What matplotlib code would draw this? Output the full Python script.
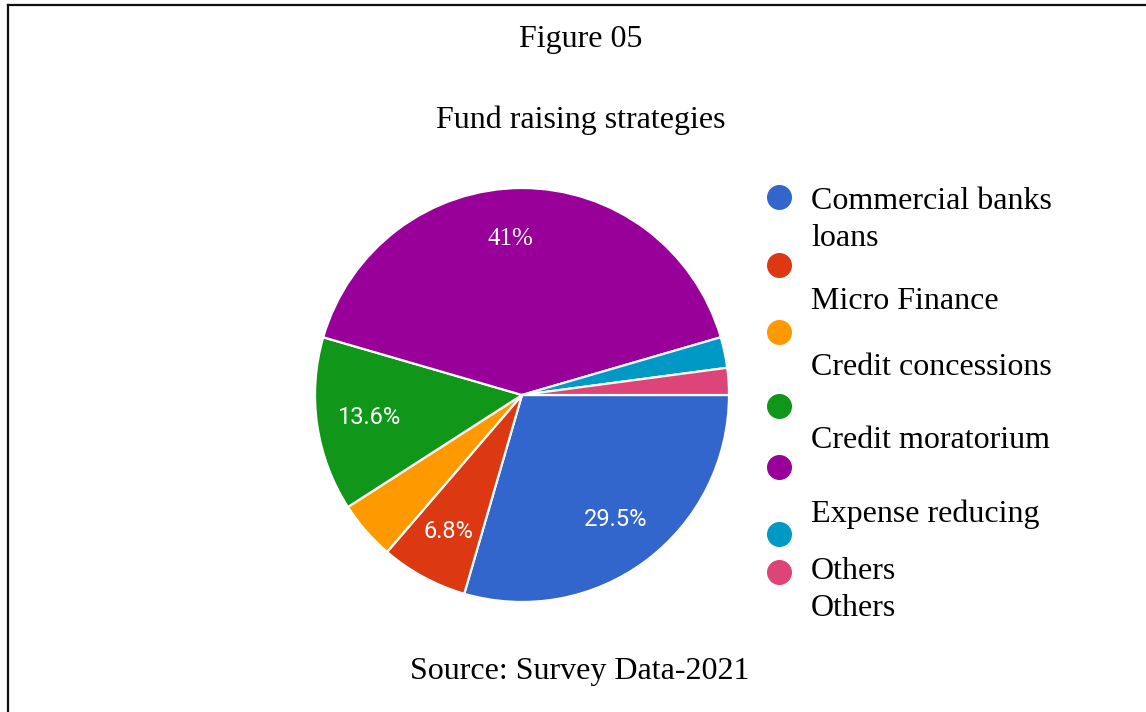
import matplotlib
matplotlib.use("Agg")
import matplotlib.pyplot as plt
from matplotlib.lines import Line2D
from matplotlib.font_manager import FontProperties

# Survey shares (%) for each fund raising strategy
categories = [
    "Commercial banks loans",
    "Micro Finance",
    "Credit concessions",
    "Credit moratorium",
    "Expense reducing",
    "Others",
    "Others",
]
shares = [29.5, 6.8, 4.6, 13.6, 41.0, 2.4, 2.1]
colors = ["#3366CC", "#DC3912", "#FF9900", "#109618", "#990099", "#0099C6", "#DD4477"]

# Legend text lines (wrapped as displayed)
legend_lines = [
    "Commercial banks", "loans", "Micro Finance", "Credit concessions",
    "Credit moratorium", "Expense reducing", "Others", "Others",
]

W, H = 1146, 712
fig = plt.figure(figsize=(W / 100, H / 100), dpi=100)
fig.patch.set_facecolor("white")

serif = ["Liberation Serif", "DejaVu Serif"]


def fx(px):
    return px / W


def fy(py):
    return 1 - py / H


# Frame lines (top and left)
fig.add_artist(Line2D([fx(7.5), 1.0], [fy(5), fy(5)], color="#111111", lw=1.6,
                      transform=fig.transFigure))
fig.add_artist(Line2D([fx(7.5), fx(7.5)], [fy(5), 0.0], color="#111111", lw=1.6,
                      transform=fig.transFigure))

# Titles and source
fig.text(fx(580.5), fy(47), "Figure 05", ha="center", va="baseline",
         fontsize=23, family=serif)
fig.text(fx(580.5), fy(128), "Fund raising strategies", ha="center", va="baseline",
         fontsize=23, family=serif)
fig.text(fx(580), fy(679), "Source: Survey Data-2021", ha="center", va="baseline",
         fontsize=23, family=serif)

# Pie
cx, cy, r = 522, 395, 207
ax = fig.add_axes([fx(cx - r), fy(cy + r), 2 * r / W, 2 * r / H])


def fmt(p):
    p = round(p, 1)
    return f"{p:g}%" if p >= 5 else ""


wedges, texts, autotexts = ax.pie(
    shares, colors=colors, startangle=0, counterclock=False,
    autopct=fmt, pctdistance=0.75,
    wedgeprops=dict(edgecolor="white", linewidth=1.6),
    textprops=dict(color="white", fontsize=17, family=["Roboto", "DejaVu Sans"]),
)
for t in autotexts:
    if t.get_text() == "41%":
        t.set_fontproperties(FontProperties(family=serif, size=18))
        x, y = t.get_position()
        t.set_position((x - 12 / r, y + 1 / r))
ax.set_xlim(-1, 1)
ax.set_ylim(-1, 1)
ax.set_aspect("equal")
ax.axis("off")

# Legend markers
marker_y = [197, 265, 332, 406, 467, 534, 572]
for c, my in zip(colors, marker_y):
    fig.add_artist(Line2D([fx(779)], [fy(my)], marker="o", markersize=17,
                          color=c, linestyle="none", transform=fig.transFigure))

# Legend text lines
text_baselines = [209, 246, 309, 375, 448, 522, 579, 616]
for line, by in zip(legend_lines, text_baselines):
    fig.text(fx(811), fy(by), line, ha="left", va="baseline", fontsize=23, family=serif)

fig.savefig("out.png", dpi=100, facecolor="white")
